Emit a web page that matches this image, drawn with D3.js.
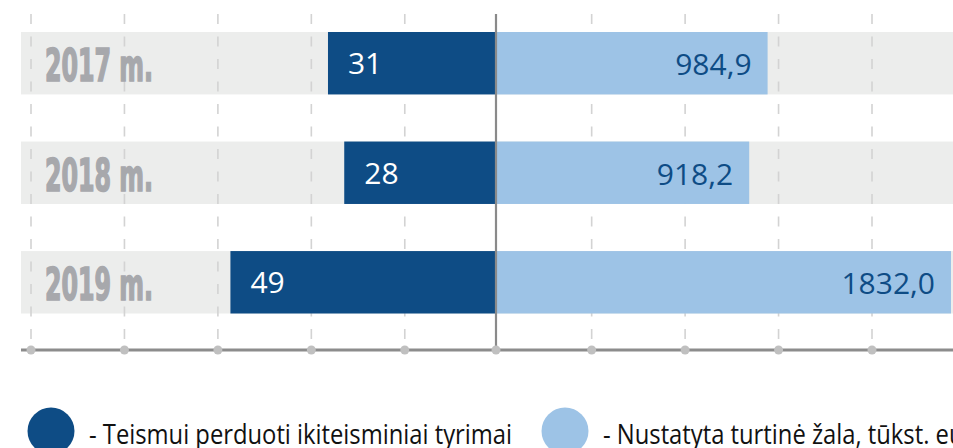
<!DOCTYPE html>
<meta charset="utf-8">
<script src="https://cdn.jsdelivr.net/npm/d3@7"></script>
<style>
  body { margin: 0; background: #fff; }
</style>
<div id="chart"></div>
<script>

// data
const years = ["2017 m.", "2018 m.", "2019 m."];
const cases = [31, 28, 49];                 // Teismui perduoti ikiteisminiai tyrimai
const damage = [984.9, 918.2, 1832.0];      // Nustatyta turtinė žala, tūkst. eur.
const caseLabels = ["31", "28", "49"];
const damageLabels = ["984,9", "918,2", "1832,0"];
const legendLabels = ["- Teismui perduoti ikiteisminiai tyrimai", "- Nustatyta turtinė žala, tūkst. eur."];

const width = 953, height = 448;
const darkBlue = "#0e4c85", lightBlue = "#9dc3e6";

const svg = d3.select("#chart")
  .append("svg")
    .attr("width", width)
    .attr("height", height);

// scales
const x0 = 496;
const xLeft = d3.scaleLinear().domain([0, 50]).range([x0, x0 - 271]);
const xRight = d3.scaleLinear().domain([0, 1650]).range([x0, 951]).clamp(true);
const y = d3.scaleBand().domain(years).range([32, 313.5]).paddingInner(0.43).paddingOuter(0);
const grid = d3.scalePoint().domain(d3.range(10)).range([31, 872]);
const axisY = 350;

// grey background bands
svg.selectAll("rect.band")
  .data(years)
  .join("rect")
    .attr("class", "band")
    .attr("x", 21)
    .attr("y", d => y(d))
    .attr("width", width - 21)
    .attr("height", y.bandwidth())
    .attr("fill", "#ecedec");

// dashed grid lines
svg.selectAll("line.grid")
  .data(grid.domain().filter(d => d !== 5))
  .join("line")
    .attr("class", "grid")
    .attr("x1", d => grid(d))
    .attr("x2", d => grid(d))
    .attr("y1", 14)
    .attr("y2", axisY)
    .attr("stroke", "#d3d3d3")
    .attr("stroke-width", 1.6)
    .attr("stroke-dasharray", "10,12.5");

// year labels
svg.selectAll("text.year")
  .data(years)
  .join("text")
    .attr("class", "year")
    .attr("x", 45)
    .attr("y", d => y(d) + y.bandwidth() / 2 + 18)
    .attr("textLength", 108)
    .attr("lengthAdjust", "spacingAndGlyphs")
    .style("font-family", "'Liberation Sans Narrow', 'DejaVu Sans Condensed', sans-serif")
    .style("font-weight", "bold")
    .style("font-size", "44px")
    .style("fill", "#a7a8ac")
    .style("stroke", "#a7a8ac")
    .style("stroke-width", 1.6)
    .text(d => d);

// left bars
svg.selectAll("rect.left")
  .data(cases)
  .join("rect")
    .attr("class", "left")
    .attr("x", d => xLeft(d))
    .attr("y", (d, i) => y(years[i]))
    .attr("width", d => x0 - xLeft(d))
    .attr("height", y.bandwidth())
    .attr("fill", darkBlue);

// right bars
svg.selectAll("rect.right")
  .data(damage)
  .join("rect")
    .attr("class", "right")
    .attr("x", x0)
    .attr("y", (d, i) => y(years[i]))
    .attr("width", d => xRight(d) - x0)
    .attr("height", y.bandwidth())
    .attr("fill", lightBlue);

// value labels
svg.selectAll("text.lval")
  .data(cases)
  .join("text")
    .attr("class", "lval")
    .attr("x", d => xLeft(d) + 20)
    .attr("y", (d, i) => y(years[i]) + y.bandwidth() / 2 + 11)
    .style("font-family", "'Open Sans', sans-serif")
    .style("font-size", "30px")
    .style("fill", "#fff")
    .text((d, i) => caseLabels[i]);

svg.selectAll("text.rval")
  .data(damage)
  .join("text")
    .attr("class", "rval")
    .attr("x", d => xRight(d) - 16)
    .attr("y", (d, i) => y(years[i]) + y.bandwidth() / 2 + 12)
    .attr("text-anchor", "end")
    .style("font-family", "'Open Sans', sans-serif")
    .style("font-size", "30px")
    .style("fill", darkBlue)
    .text((d, i) => damageLabels[i]);

// axis line and centre line
svg.append("line")
  .attr("x1", 21).attr("x2", width)
  .attr("y1", axisY).attr("y2", axisY)
  .attr("stroke", "#8c8c8c")
  .attr("stroke-width", 3);

svg.append("line")
  .attr("x1", x0).attr("x2", x0)
  .attr("y1", 14).attr("y2", axisY)
  .attr("stroke", "#8a8a8a")
  .attr("stroke-width", 2.2);

// axis dots
const dotX = grid.domain().filter(d => d !== 5).map(d => grid(d)).concat([x0]);
svg.selectAll("circle.dot")
  .data(dotX)
  .join("circle")
    .attr("class", "dot")
    .attr("cx", d => d)
    .attr("cy", axisY)
    .attr("r", 4.5)
    .attr("fill", "#c0c0c0");

// legend
const legendX = [51, 565];
svg.selectAll("circle.leg")
  .data(legendLabels)
  .join("circle")
    .attr("class", "leg")
    .attr("cx", (d, i) => legendX[i])
    .attr("cy", 431)
    .attr("r", 23.5)
    .attr("fill", (d, i) => i === 0 ? darkBlue : lightBlue);

const legText = svg.selectAll("text.leg")
  .data(legendLabels)
  .join("text")
    .attr("class", "leg")
    .attr("x", (d, i) => legendX[i] + 38)
    .attr("y", 444)
    .style("font-family", "'Open Sans', sans-serif")
    .style("font-size", "27px")
    .style("fill", "#111")
    .text(d => d);

// squeeze both legend texts by the same factor so the first one spans 423px
const squeeze = 423 / legText.nodes()[0].getComputedTextLength();
legText
  .attr("textLength", function() { return this.getComputedTextLength() * squeeze; })
  .attr("lengthAdjust", "spacingAndGlyphs");

</script>
